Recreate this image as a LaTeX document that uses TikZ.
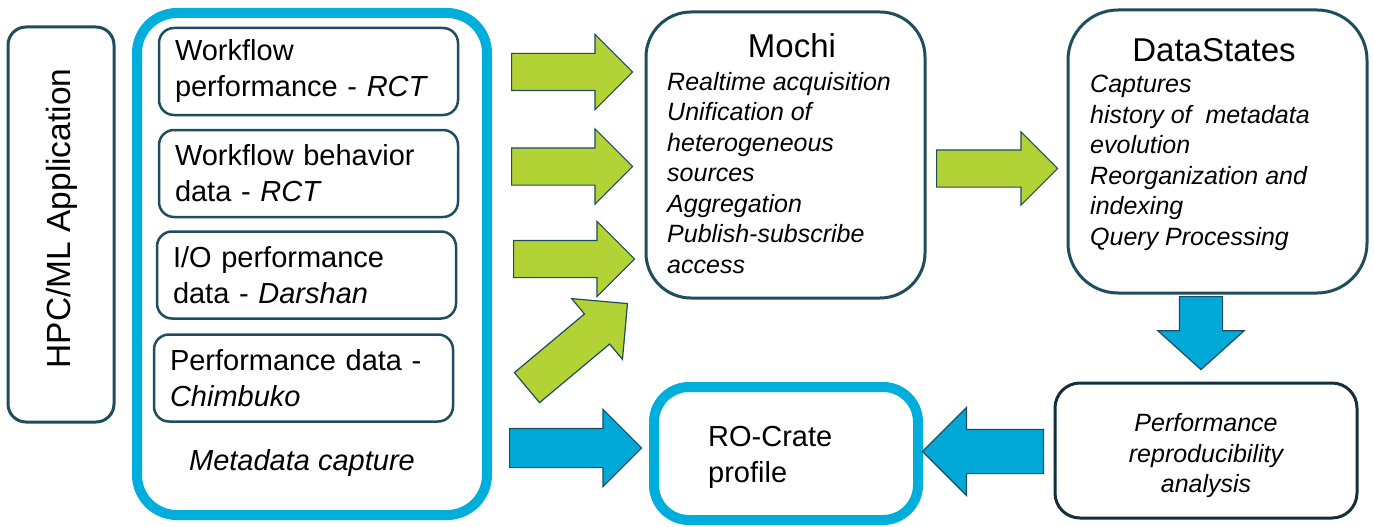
\documentclass[tikz,border=0pt]{standalone}
\usepackage{fontspec}
\setmainfont{Liberation Sans}
\usetikzlibrary{shapes.arrows}
\definecolor{capcyan}{HTML}{00AEDB}
\definecolor{boxteal}{HTML}{1E4D5D}
\definecolor{boxdark}{HTML}{172E3A}
\definecolor{arrgreen}{HTML}{B2D236}
\definecolor{arrblue}{HTML}{00A9D7}
\begin{document}
\begin{tikzpicture}[x=1pt, y=-1pt,
    txt/.style={font=\fontsize{29}{36}\selectfont},
    small/.style={font=\fontsize{25}{30.5}\selectfont\itshape},
    title/.style={font=\fontsize{33}{40}\selectfont},
    infobox/.style={draw=boxteal, line width=2.5pt, rounded corners=15pt,
      minimum width=299pt, minimum height=87pt, text width=267pt,
      inner xsep=16pt, align=left, txt},
    cyanbox/.style={draw=capcyan, line width=10pt},
    bigbox/.style={draw=boxteal, line width=3pt, rounded corners=45pt},
    blk/.style n args={3}{inner xsep=0pt, inner ysep=#1,
      single arrow head extend=#2, minimum height=#3},
    garrow/.style={single arrow, draw=boxteal, fill=arrgreen, line width=1.2pt,
      minimum width=0pt, anchor=tail},
    barrow/.style={single arrow, draw=boxteal, fill=arrblue, line width=1.2pt,
      minimum width=0pt, anchor=tail}]
  \useasboundingbox (0,0) rectangle (1374,527);

  % left column
  \node[draw=boxteal, line width=3pt, rounded corners=18pt,
    minimum width=106pt, minimum height=395pt] (app) at (61,224.5) {};
  \node[rotate=90, font=\fontsize{33.5}{40}\selectfont] (apptext) at (62,218.5)
    {HPC/ML Application};
  \node[cyanbox, rounded corners=40pt, minimum width=350pt,
    minimum height=502pt] (capture) at (312,264) {};
  \node[txt, font=\fontsize{29}{36}\selectfont\itshape, anchor=base]
    (caplabel) at (302,470) {Metadata capture};
  \node[infobox] (wfperf) at (308.5,71.5) {Workflow\\performance - \textit{RCT}};
  \node[infobox] (wfbeh) at (308.5,173.5) {Workflow behavior\\data - \textit{RCT}};
  \node[infobox] (ioperf) at (306.5,275) {I/O performance\\data - \textit{Darshan}};
  \node[infobox] (perfdata) at (303.5,378) {Performance data -\\\textit{Chimbuko}};

  % Mochi and DataStates
  \node[bigbox, minimum width=279pt, minimum height=286pt] (mochi) at (785.5,155) {};
  \node[title, anchor=base] (mochititle) at (792,58) {Mochi};
  \node[small, align=left, anchor=north west, inner sep=0pt] (mochitext) at (667,72)
    {Realtime acquisition\\Unification of\\heterogeneous\\sources\\Aggregation\\Publish-subscribe\\access};
  \node[bigbox, rounded corners=50pt, minimum width=299pt,
    minimum height=283pt] (datastates) at (1217.5,151.5) {};
  \node[title, anchor=base] (dstitle) at (1214,62) {DataStates};
  \node[small, align=left, anchor=north west, inner sep=0pt] (dstext) at (1090,75)
    {Captures\\history of \ metadata\\evolution\\Reorganization and\\indexing\\Query Processing};

  % bottom row
  \node[draw=boxdark, line width=3pt, rounded corners=25pt, minimum width=302pt,
    minimum height=135pt] (repro) at (1206,450.5) {};
  \node[small, align=center] (reprotext) at (1206,456)
    {Performance\\reproducibility\\analysis};
  \node[cyanbox, rounded corners=35pt, minimum width=264pt,
    minimum height=133pt] (rocrate) at (786,453.5) {};
  \node[txt, align=left, anchor=west, inner sep=0pt] (rotext) at (708,457.5)
    {RO-Crate\\profile};

  % block arrows
  \node[garrow, blk={18pt}{19pt}{121pt}] (g1) at (511,72) {};
  \node[garrow, blk={18pt}{19pt}{121pt}] (g2) at (511,166.5) {};
  \node[garrow, blk={18pt}{19pt}{121pt}] (g3) at (513,259) {};
  \node[garrow, blk={19pt}{20pt}{131pt}, rotate=39.9] (g4) at (526.5,388) {};
  \node[garrow, blk={18pt}{18pt}{121pt}] (g5) at (936,168.5) {};
  \node[barrow, blk={21pt}{21.5pt}{73pt}, rotate=-90,
    single arrow tip angle=96] (b1) at (1201,296) {};
  \node[barrow, blk={21.5pt}{22pt}{121pt}, rotate=180] (b2) at (1044,451.5) {};
  \node[barrow, blk={19pt}{19pt}{132pt}] (b3) at (509,448) {};
\end{tikzpicture}
\end{document}
